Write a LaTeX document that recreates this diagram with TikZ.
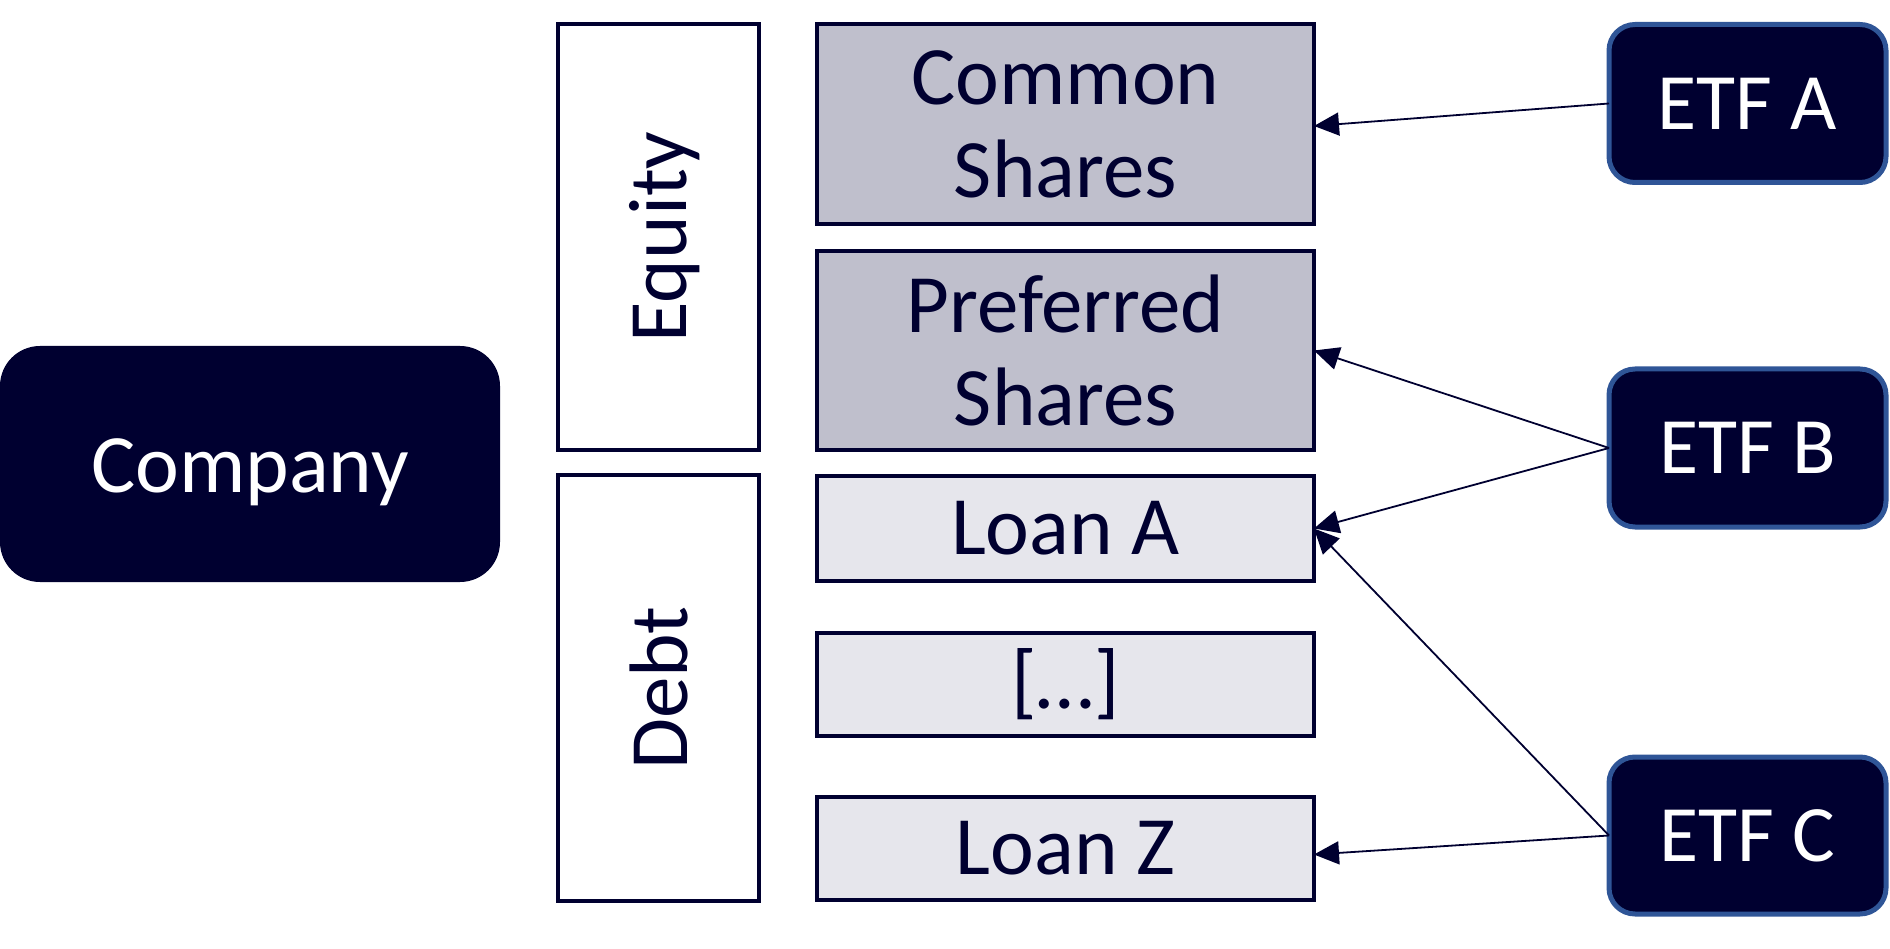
\documentclass[tikz,border=0pt]{standalone}
\usepackage{fontspec}
\setmainfont{Carlito}
\usetikzlibrary{arrows.meta}
\definecolor{navy}{RGB}{0,0,48}
\definecolor{etfblue}{RGB}{47,85,151}
\definecolor{sharegray}{RGB}{191,191,204}
\definecolor{loangray}{RGB}{230,230,236}
\tikzset{
  bigfont/.style={font=\fontsize{83}{93}\selectfont},
  darkbox/.style={fill=navy, text=white, rounded corners=40pt, inner sep=0pt, outer sep=0pt, bigfont},
  etfbox/.style={fill=navy, draw=etfblue, line width=5pt, text=white, rounded corners=26pt, inner sep=0pt, outer sep=0pt, minimum width=277pt, minimum height=158pt, font=\fontsize{80}{88}\selectfont},
  sidebox/.style={draw=navy, fill=white, line width=4.5pt, text=navy, inner sep=0pt, outer sep=0pt, minimum width=201pt, minimum height=426pt, bigfont},
  sharebox/.style={draw=navy, fill=sharegray, line width=4.5pt, text=navy, inner sep=0pt, outer sep=0pt, minimum width=497pt, minimum height=200pt, align=center, bigfont},
  loanbox/.style={draw=navy, fill=loangray, line width=4.5pt, text=navy, inner sep=0pt, outer sep=0pt, minimum width=497pt, minimum height=104pt, bigfont},
  arr/.style={draw=navy, line width=1.8pt, -{Triangle[length=25pt,width=23pt]}}
}
\begin{document}
\begin{tikzpicture}[x=1pt,y=-1pt]
\useasboundingbox (0,0) rectangle (1890,949);
\node[darkbox, minimum width=500pt, minimum height=236pt] (company) at (250,464) {};
\node[text=white, bigfont] (companylbl) at ([yshift=-8pt]company.center) {Company};
\node[sidebox] (equity) at (658.5,237) {};
\node[text=navy, bigfont, rotate=90] (equitylbl) at ([xshift=6pt]equity.center) {Equity};
\node[sidebox] (debt) at (658.5,688) {};
\node[text=navy, bigfont, rotate=90] (debtlbl) at (debt.center) {Debt};
\node[sharebox] (common) at (1065.5,124) {Common\\Shares};
\node[sharebox, minimum height=199pt] (preferred) at (1065.5,350.5) {Preferred\\Shares};
\node[loanbox, minimum height=105pt] (loana) at (1065.5,528.5) {Loan A};
\node[loanbox, minimum height=103pt] (dots) at (1065.5,684.5) {[…]};
\node[loanbox, minimum height=103pt] (loanz) at (1065.5,848.5) {Loan Z};
\node[etfbox] (etfa) at (1747.5,103.5) {ETF A};
\node[etfbox] (etfb) at (1747.5,448) {ETF B};
\node[etfbox, minimum height=157pt] (etfc) at (1747.5,835.5) {ETF C};
\draw[arr] (etfa.west) -- ([yshift=-2pt]common.east);
\draw[arr] (etfb.west) -- (preferred.east);
\draw[arr] (etfb.west) -- (loana.east);
\draw[arr] (etfc.west) -- (loana.east);
\draw[arr] (etfc.west) -- ([yshift=-6pt]loanz.east);
\end{tikzpicture}
\end{document}
